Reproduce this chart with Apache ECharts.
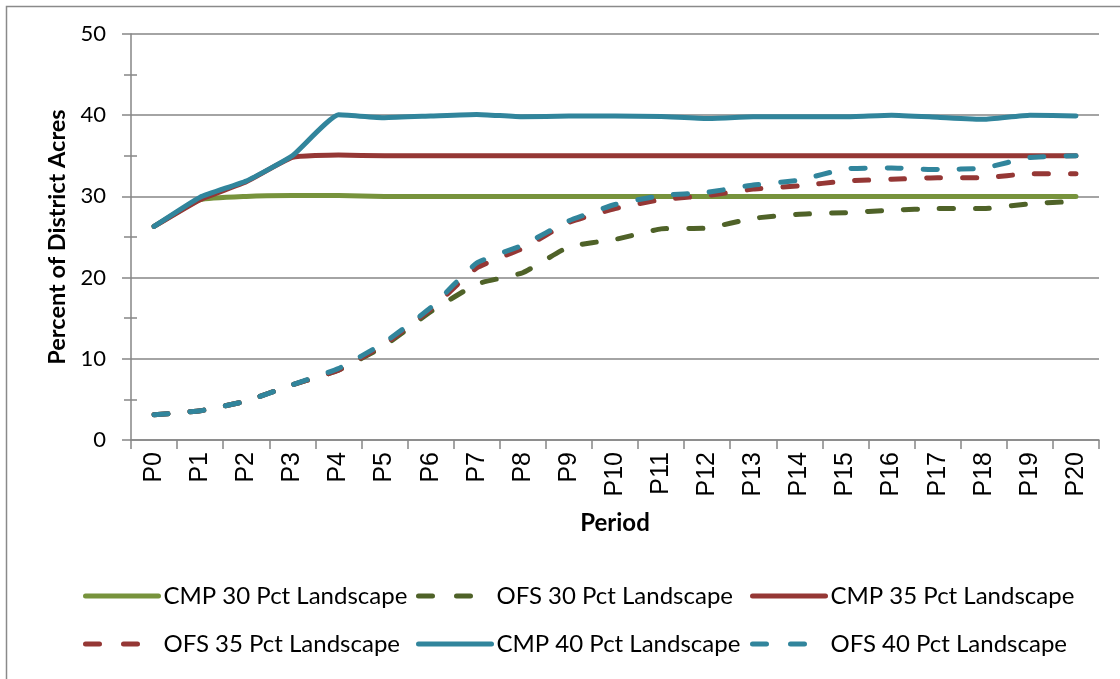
<!DOCTYPE html>
<html>
<head>
<meta charset="utf-8">
<script src="https://cdn.jsdelivr.net/npm/echarts@6/dist/echarts.min.js"></script>
<style>
  html, body { margin: 0; padding: 0; background: #ffffff; }
  #chart { width: 1120px; height: 679px; }
</style>
</head>
<body>
<div id="chart"></div>
<script>
// Planning periods on the horizontal axis
const periods = ['P0','P1','P2','P3','P4','P5','P6','P7','P8','P9','P10',
                 'P11','P12','P13','P14','P15','P16','P17','P18','P19','P20'];

// Percent of district acres, by scenario
const cmp30 = [26.3, 29.6, 30.0, 30.1, 30.1, 30.0, 30.0, 30.0, 30.0, 30.0, 30.0,
               30.0, 30.0, 30.0, 30.0, 30.0, 30.0, 30.0, 30.0, 30.0, 30.0];
const ofs30 = [3.1, 3.6, 4.8, 6.8, 8.6, 11.6, 15.8, 19.2, 20.6, 23.8, 24.7,
               26.0, 26.1, 27.3, 27.8, 28.0, 28.3, 28.5, 28.5, 29.1, 29.4];
const cmp35 = [26.3, 29.6, 31.8, 34.8, 35.1, 35.0, 35.0, 35.0, 35.0, 35.0, 35.0,
               35.0, 35.0, 35.0, 35.0, 35.0, 35.0, 35.0, 35.0, 35.0, 35.0];
const ofs35 = [3.1, 3.6, 4.8, 6.8, 8.6, 11.8, 16.1, 21.2, 23.6, 26.8, 28.5,
               29.6, 30.1, 30.9, 31.3, 31.9, 32.1, 32.3, 32.3, 32.8, 32.8];
const cmp40 = [26.3, 29.9, 31.9, 35.0, 40.05, 39.7, 39.9, 40.1, 39.8, 39.9, 39.9,
               39.85, 39.6, 39.8, 39.8, 39.8, 40.0, 39.75, 39.5, 40.0, 39.9];
const ofs40 = [3.1, 3.6, 4.8, 6.8, 8.8, 12.0, 16.3, 21.8, 24.0, 27.0, 29.0,
               30.1, 30.5, 31.4, 32.0, 33.4, 33.5, 33.3, 33.5, 34.8, 35.0];

const seriesNames = ['CMP 30 Pct Landscape', 'OFS 30 Pct Landscape', 'CMP 35 Pct Landscape',
                     'OFS 35 Pct Landscape', 'CMP 40 Pct Landscape', 'OFS 40 Pct Landscape'];
const seriesData = [cmp30, ofs30, cmp35, ofs35, cmp40, ofs40];
const seriesColors = ['#77933C', '#4F6228', '#953735', '#953735', '#31859C', '#31859C'];
const seriesDashed = [false, true, false, true, false, true];

const yTicks = [0, 10, 20, 30, 40, 50];

const FONT = 'Lato, "Open Sans", "Noto Sans", sans-serif';
const TICK_FONT = '"Liberation Sans", Arial, sans-serif';
const AXIS_GRAY = '#868686';
const LINE_W = 5;
const DASH = [14, 22];
const LEGEND_DASH = [14, 24];

const chart = echarts.init(document.getElementById('chart'), null, { renderer: 'canvas' });

const series = seriesNames.map((name, i) => ({
  name: name,
  type: 'line',
  data: seriesData[i],
  symbol: 'none',
  smooth: 0.13,
  color: seriesColors[i],
  lineStyle: {
    color: seriesColors[i],
    width: LINE_W,
    type: seriesDashed[i] ? DASH : 'solid',
    cap: 'round',
    join: 'round'
  },
  z: 2 + i
}));

// Two rows of three legend entries
const legendCols = [83, 416, 750];
const legendRows = [596, 644];
const legends = seriesNames.map((name, i) => ({
  data: [name],
  left: legendCols[i % 3],
  top: legendRows[Math.floor(i / 3)] - 12,
  itemWidth: 73,
  itemHeight: 24,
  padding: 0,
  selectedMode: false,
  itemStyle: { opacity: 0 },
  lineStyle: { width: LINE_W, cap: 'round', type: seriesDashed[i] ? LEGEND_DASH : 'solid' },
  textStyle: { fontFamily: FONT, fontSize: 24, color: '#000000' }
}));

const gridBox = { left: 131, right: 21, top: 34, bottom: 239, containLabel: false };

chart.setOption({
  animation: false,
  backgroundColor: '#ffffff',
  grid: gridBox,
  legend: legends,
  xAxis: {
    type: 'category',
    data: periods,
    boundaryGap: true,
    name: 'Period',
    nameLocation: 'middle',
    nameGap: 71,
    nameTextStyle: { fontFamily: FONT, fontSize: 24, fontWeight: 'bold', color: '#000000' },
    axisLine: { lineStyle: { color: AXIS_GRAY, width: 1.5 } },
    axisTick: { show: true, alignWithLabel: false, length: 9, lineStyle: { color: AXIS_GRAY, width: 1.5 } },
    axisLabel: { rotate: 90, margin: 12, fontFamily: TICK_FONT, fontSize: 25, color: '#000000', interval: 0 },
    splitLine: { show: false }
  },
  yAxis: [{
    type: 'value',
    min: yTicks[0],
    max: yTicks[yTicks.length - 1],
    interval: 10,
    name: 'Percent of District Acres',
    nameLocation: 'middle',
    nameGap: 62,
    nameRotate: 90,
    nameTextStyle: { fontFamily: FONT, fontSize: 23.5, fontWeight: 'bold', color: '#000000' },
    axisLine: { show: true, lineStyle: { color: AXIS_GRAY, width: 1.5 } },
    axisTick: { show: true, length: 9, lineStyle: { color: AXIS_GRAY, width: 1.5 } },
    minorTick: { show: true, splitNumber: 2, length: 7, lineStyle: { color: AXIS_GRAY, width: 1.5 } },
    axisLabel: { margin: 25, fontFamily: FONT, fontSize: 22, color: '#000000' },
    splitLine: { show: true, lineStyle: { color: AXIS_GRAY, width: 1.5 } }
  }, {
    // inner half of the minor ticks, which cross the value axis
    type: 'value',
    position: 'left',
    min: yTicks[0],
    max: yTicks[yTicks.length - 1],
    interval: 10,
    axisLine: { show: false },
    axisTick: { show: false, inside: true },
    minorTick: { show: true, splitNumber: 2, length: 6, lineStyle: { color: AXIS_GRAY, width: 1.5 } },
    axisLabel: { show: false },
    splitLine: { show: false }
  }],
  series: series,
  graphic: [{
    type: 'rect',
    left: 4, top: 4,
    shape: { width: 1300, height: 900 },
    style: { fill: 'none', stroke: '#8a8a8a', lineWidth: 1.5 },
    silent: true, z: -1
  }]
});
</script>
</body>
</html>
